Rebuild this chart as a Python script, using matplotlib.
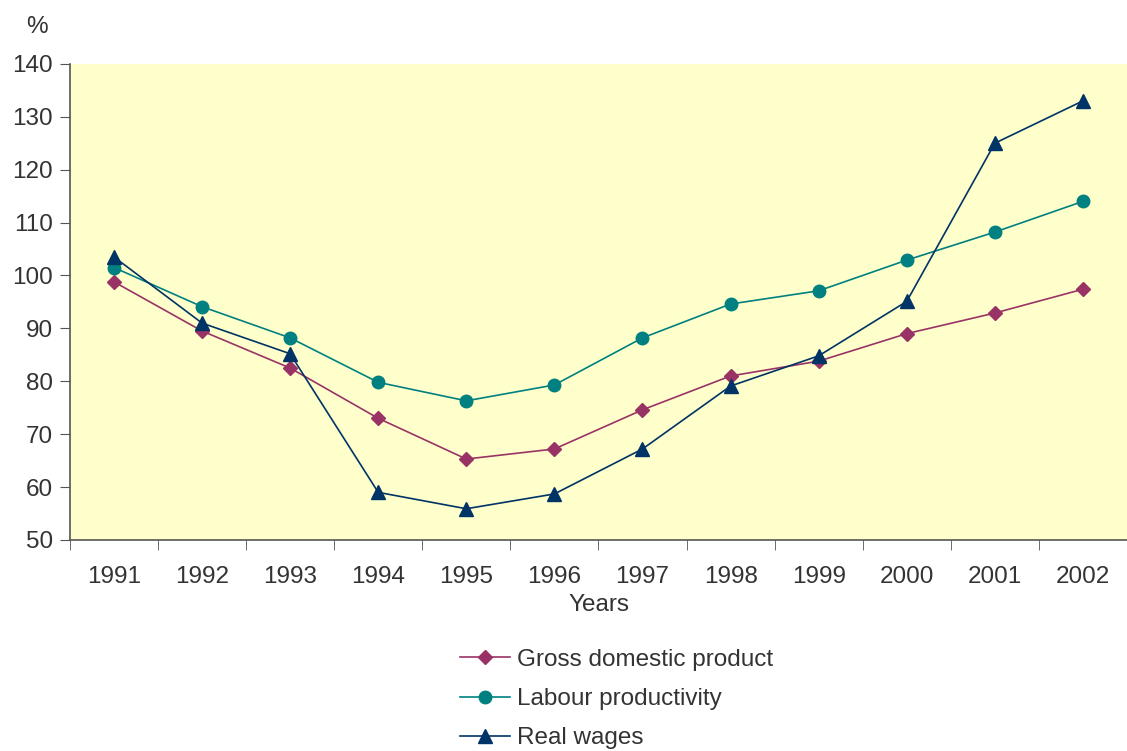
import matplotlib
matplotlib.use('Agg')
import matplotlib.pyplot as plt
import numpy as np

plt.rcParams['font.family'] = ['Liberation Sans', 'DejaVu Sans']

years = ['1991', '1992', '1993', '1994', '1995', '1996',
         '1997', '1998', '1999', '2000', '2001', '2002']
gdp = [98.8, 89.5, 82.5, 73.0, 65.3, 67.2, 74.6, 81.0, 83.8, 89.0, 92.9, 97.4]
labour = [101.5, 94.1, 88.2, 79.8, 76.3, 79.3, 88.2, 94.6, 97.1, 102.9, 108.2, 114.0]
wages = [103.5, 91.0, 85.2, 59.0, 55.9, 58.7, 67.2, 79.1, 84.8, 95.1, 125.0, 133.0]

text_col = '#333333'
axis_col = '#555555'
fs = 17.5

fig = plt.figure(figsize=(11.27, 7.51), dpi=100)
ax = fig.add_axes([0.062, 0.281, 0.938, 0.634])
ax.set_facecolor('#FFFFCC')

x = np.arange(len(years))
ax.plot(x, gdp, color='#993366', marker='D', markersize=7, linewidth=1.2,
        label='Gross domestic product')
ax.plot(x, labour, color='#008080', marker='o', markersize=9, linewidth=1.2,
        label='Labour productivity')
ax.plot(x, wages, color='#003366', marker='^', markersize=10, linewidth=1.2,
        label='Real wages')

ax.set_xlim(-0.5, len(years) - 0.5)
ax.set_ylim(50, 140)
ax.set_yticks(np.arange(50, 141, 10))
ax.set_xticks(x)
ax.set_xticklabels(years)
ax.set_xticks(np.arange(-0.5, len(years), 1), minor=True)
ax.tick_params(axis='x', which='major', length=0, pad=19, labelsize=fs, labelcolor=text_col)
ax.tick_params(axis='x', which='minor', length=7, color=axis_col)
ax.tick_params(axis='y', length=7, color=axis_col, labelsize=fs, labelcolor=text_col, pad=5)

for s in ['top', 'right']:
    ax.spines[s].set_visible(False)
for s in ['left', 'bottom']:
    ax.spines[s].set_color(axis_col)
    ax.spines[s].set_linewidth(1.2)

ax.set_xlabel('Years', fontsize=fs, color=text_col, labelpad=4)
fig.text(0.033, 0.964, '%', fontsize=fs, color=text_col, ha='center', va='center')

fig.legend(handles=ax.get_lines(), loc='upper left', bbox_to_anchor=(0.408, 0.136),
           frameon=False, fontsize=fs, labelcolor=text_col, handlelength=2.05,
           handletextpad=0.3, labelspacing=0.71, borderpad=0, borderaxespad=0)

fig.savefig('out.png', dpi=100)
